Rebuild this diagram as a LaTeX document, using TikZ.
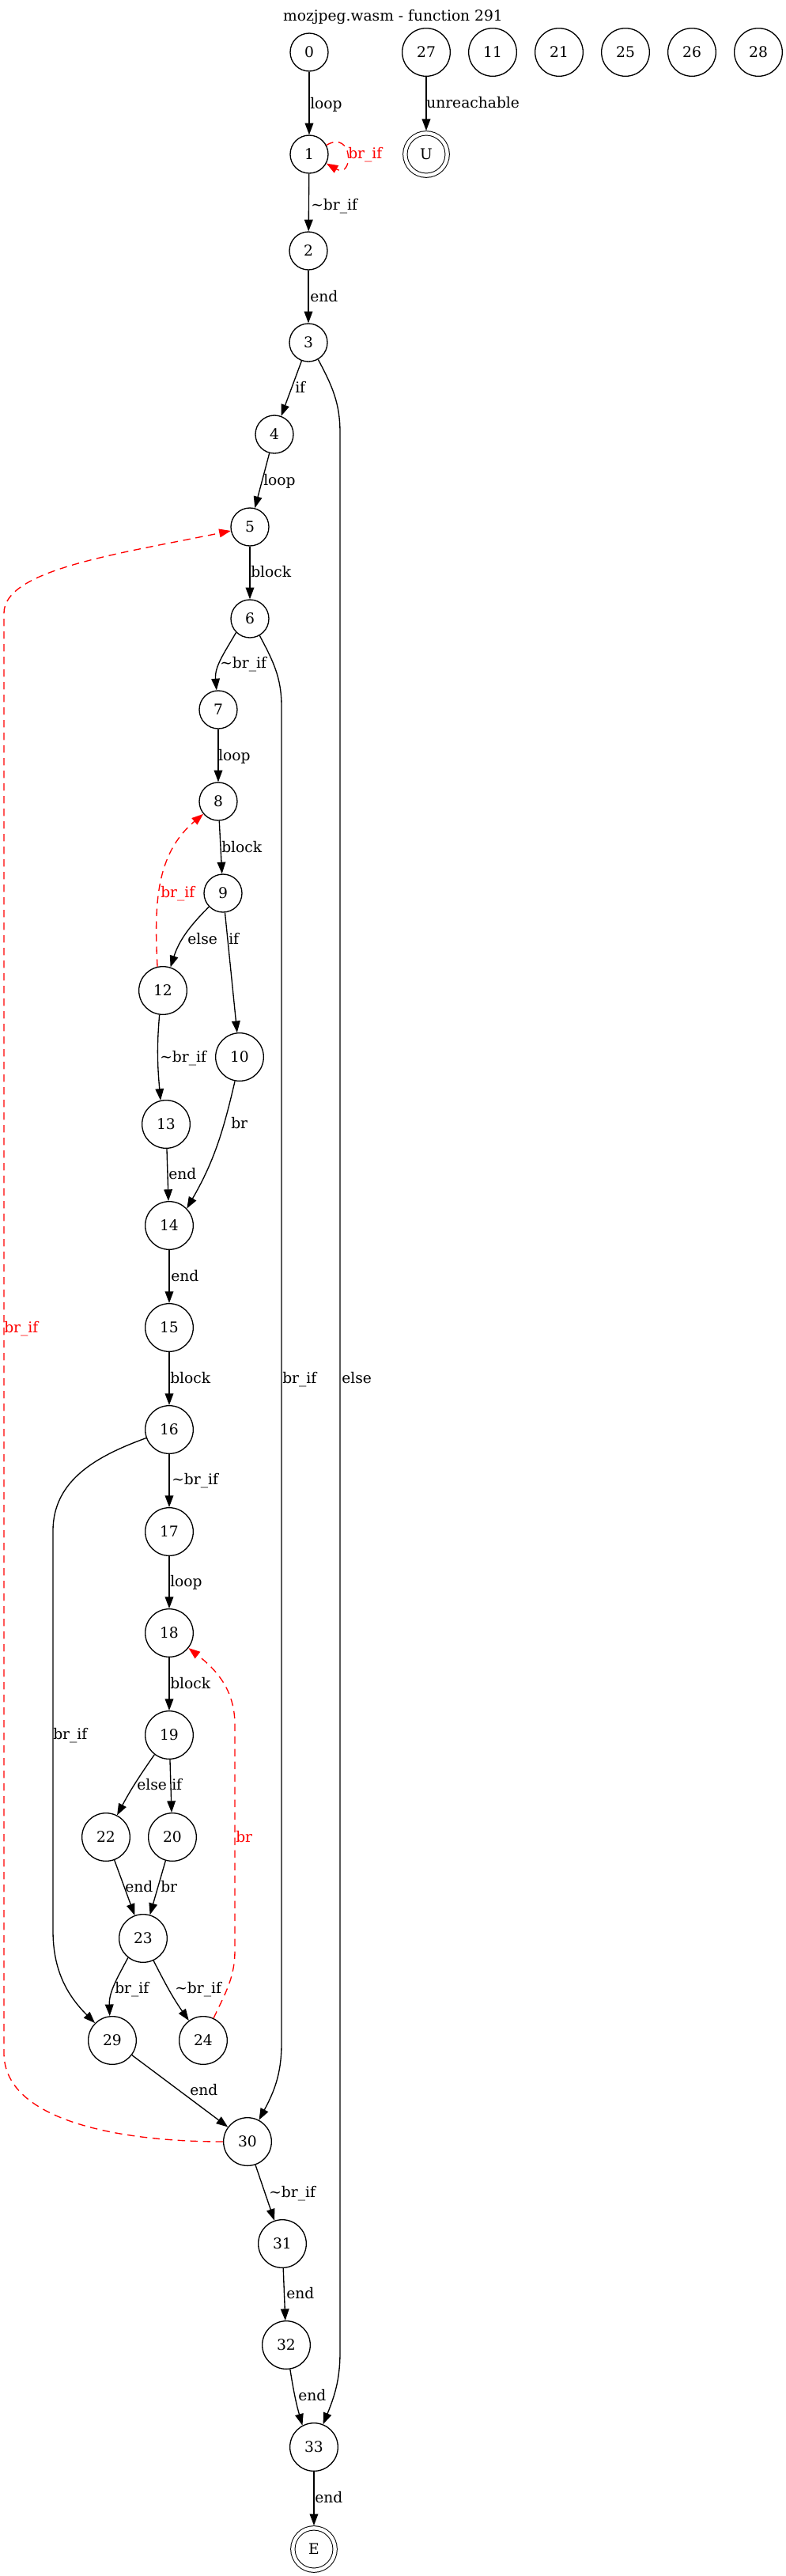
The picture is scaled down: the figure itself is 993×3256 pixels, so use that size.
\documentclass[tikz,border=0pt]{standalone}
\usepackage{fontspec}
\setmainfont{DejaVu Serif}
\usetikzlibrary{arrows.meta}
\begin{document}
\begin{tikzpicture}[x=0.75pt,y=0.75pt,
  font=\fontsize{14pt}{17pt}\selectfont,
  nd/.style={circle,draw,line width=1pt,minimum size=36pt,inner sep=0pt},
  nw/.style={nd,minimum size=45.5pt},
  dbl/.style={circle,draw,line width=0.75pt,double,double distance=3.25pt,minimum size=40pt,inner sep=0pt,outer sep=2.4pt},
  arr/.style={draw,line width=1pt,-{Triangle[length=11pt,width=8pt]}},
  rarr/.style={arr,red,dash pattern=on 7pt off 5pt},
  lbl/.style={anchor=west,inner sep=0pt,text height=11pt,text depth=1pt},
  rlbl/.style={lbl,text=red}]
\useasboundingbox (0,0) rectangle (993,-3256);
\node (title) at (497,-21) {mozjpeg.wasm - function 291};
% nodes
\node[nd] (n0) at (391,-66) {0};
\node[nw] (n27) at (539,-66) {27};
\node[nw] (n11) at (623,-66) {11};
\node[nw] (n21) at (707,-66) {21};
\node[nw] (n25) at (791,-66) {25};
\node[nw] (n26) at (875,-66) {26};
\node[nw] (n28) at (959,-66) {28};
\node[nd] (n1) at (391,-195) {1};
\node[dbl] (nU) at (539,-195) {U};
\node[nd] (n2) at (390,-317) {2};
\node[nd] (n3) at (390,-433) {3};
\node[nd] (n4) at (347,-549) {4};
\node[nd] (n5) at (316,-666) {5};
\node[nd] (n6) at (316,-782) {6};
\node[nd] (n7) at (276,-897) {7};
\node[nd] (n8) at (276,-1013) {8};
\node[nd] (n9) at (282,-1129) {9};
\node[nw] (n12) at (206,-1252) {12};
\node[nw] (n10) at (303,-1336) {10};
\node[nw] (n13) at (210,-1421) {13};
\node[nw] (n14) at (214,-1549) {14};
\node[nw] (n15) at (214,-1678) {15};
\node[nw] (n16) at (214,-1807) {16};
\node[nw] (n17) at (214,-1936) {17};
\node[nw] (n18) at (214,-2064) {18};
\node[nw] (n19) at (214,-2193) {19};
\node[nw] (n22) at (134,-2322) {22};
\node[nw] (n20) at (218,-2322) {20};
\node[nw] (n23) at (181,-2450) {23};
\node[nw] (n29) at (142,-2579) {29};
\node[nw] (n24) at (257,-2579) {24};
\node[nw] (n30) at (313,-2707) {30};
\node[nw] (n31) at (357,-2836) {31};
\node[nw] (n32) at (362,-2964) {32};
\node[nw] (n33) at (397,-3093) {33};
\node[dbl] (nE) at (397,-3222) {E};
% edges
\draw[arr] (n0) -- (n1);
\draw[arr] (n27) -- (nU);
\draw[rarr] (n1.28) .. controls +(30:40) and +(-30:40) .. (n1.-28);
\draw[arr] (n1) -- (n2);
\draw[arr] (n2) -- (n3);
\draw[arr] (n3) -- (n4);
\draw[arr] (n3.-60) to[out=-62,in=90] (430,-547) -- (430,-2973) to[out=-90,in=68] (n33);
\draw[arr] (n4) -- (n5);
\draw[arr] (n5) -- (n6);
\draw[arr] (n6.-135) to[out=-120,in=95] (n7);
\draw[arr] (n6.-60) to[out=-62,in=90] (356,-893) -- (356,-2583) to[out=-90,in=62] (n30);
\draw[arr] (n7) -- (n8);
\draw[arr] (n8) -- (n9);
\draw[rarr] (n12.103) to[out=93,in=-140] (n8);
\draw[arr] (n9.-136) to[out=-135,in=72] (n12);
\draw[arr] (n9) -- (n10);
\draw[arr] (n12.-98) to[out=-95,in=95] (n13.103);
\draw[arr] (n10.-101) to[out=-103,in=60] (n14.44);
\draw[arr] (n13) -- (n14);
\draw[arr] (n14) -- (n15);
\draw[arr] (n15) -- (n16);
\draw[arr] (n16) -- (n17);
\draw[arr] (n17) -- (n18);
\draw[arr] (n18) -- (n19);
\draw[arr] (n16) to[out=200,in=90] (67,-1935) -- (67,-2440) to[out=-90,in=135] (n29);
\draw[arr] (n19.-127) to[out=-125,in=62] (n22.63);
\draw[arr] (n19) -- (n20);
\draw[arr] (n22) -- (n23);
\draw[arr] (n20) -- (n23);
\draw[rarr] (n24) to[out=65,in=-90] (297,-2465) -- (297,-2180) to[out=90,in=-38] (n18);
\draw[arr] (n23.-128) to[out=-118,in=92] (n29.96);
\draw[arr] (n23.-65) to[out=-63,in=125] (n24.126);
\draw[arr] (n29) -- (n30);
\draw[rarr] (n30.180) .. controls (150,-2707) and (5,-2680) .. (5,-2595) -- (5,-775) .. controls (5,-720) and (150,-700) .. (n5);
\draw[arr] (n30) -- (n31);
\draw[arr] (n31) -- (n32);
\draw[arr] (n32.-81) to[out=-81,in=106] (n33.118);
\draw[arr] (n33) -- (nE);
% labels
\node[lbl] (l01) at (392,-131) {loop};
\node[lbl] (l27U) at (539,-130) {unreachable};
\node[rlbl] (l11) at (440,-194) {br\_if};
\node[lbl] (l12) at (393,-259) {\textasciitilde br\_if};
\node[lbl] (l23) at (392,-375) {end};
\node[lbl] (l34) at (373,-490) {if};
\node[lbl] (l45) at (333,-607) {loop};
\node[lbl] (l56) at (317,-723) {block};
\node[lbl] (l67) at (278,-838) {\textasciitilde br\_if};
\node[lbl] (l78) at (276,-955) {loop};
\node[lbl] (l89) at (280,-1071) {block};
\node[rlbl] (l128) at (203,-1128) {br\_if};
\node[lbl] (l912) at (237,-1187) {else};
\node[lbl] (l910) at (289,-1187) {if};
\node[lbl] (l1213) at (202,-1336) {\textasciitilde br\_if};
\node[lbl] (l1014) at (292,-1420) {br};
\node[lbl] (l1314) at (213,-1484) {end};
\node[lbl] (l1415) at (216,-1613) {end};
\node[lbl] (l1516) at (215,-1742) {block};
\node[lbl] (l630) at (357,-1742) {br\_if};
\node[lbl] (l333) at (432,-1742) {else};
\node[rlbl] (l305) at (5,-1678) {br\_if};
\node[lbl] (l1617) at (217,-1870) {\textasciitilde br\_if};
\node[lbl] (l1718) at (215,-1999) {loop};
\node[lbl] (l1819) at (215,-2128) {block};
\node[lbl] (l1629) at (67,-2192) {br\_if};
\node[lbl] (l1922) at (173,-2256) {else};
\node[lbl] (l1920) at (217,-2256) {if};
\node[rlbl] (l2418) at (298,-2322) {br};
\node[lbl] (l2223) at (158,-2385) {end};
\node[lbl] (l2023) at (203,-2385) {br};
\node[lbl] (l2329) at (145,-2513) {br\_if};
\node[lbl] (l2324) at (221,-2513) {\textasciitilde br\_if};
\node[lbl] (l2930) at (240,-2642) {end};
\node[lbl] (l3031) at (340,-2771) {\textasciitilde br\_if};
\node[lbl] (l3132) at (362,-2899) {end};
\node[lbl] (l3233) at (377,-3028) {end};
\node[lbl] (l33E) at (398,-3157) {end};
\end{tikzpicture}
\end{document}
